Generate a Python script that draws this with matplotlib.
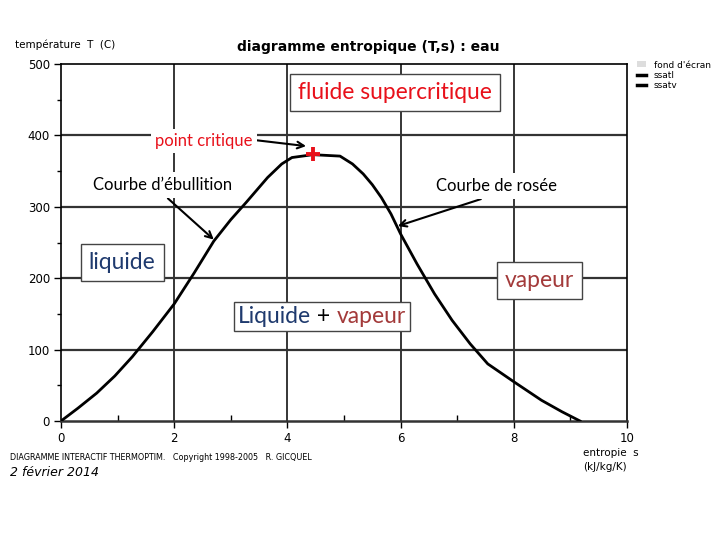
import matplotlib
matplotlib.use("Agg")
import matplotlib.pyplot as plt
from matplotlib.lines import Line2D
from matplotlib.patches import Patch
from matplotlib.offsetbox import TextArea, HPacker, AnnotationBbox

# saturation curve (entropy s in kJ/kg/K, temperature T in C)
s_liq = [0.0, 0.3, 0.63, 0.95, 1.26, 1.62, 2.0, 2.35, 2.7, 3.0, 3.27, 3.65, 3.9, 4.08, 4.45]
T_liq = [0, 18, 39, 63, 90, 125, 164, 207, 252, 282, 306, 341, 360, 369, 373]
s_vap = [4.45, 4.93, 5.15, 5.34, 5.5, 5.66, 5.83, 6.0, 6.29, 6.6, 6.91, 7.23, 7.54,
         8.0, 8.49, 8.85, 9.17]
T_vap = [373, 371, 360, 346, 331, 313, 290, 262, 220, 178, 141, 108, 80,
         55, 29, 13, 0]
crit_s, crit_T = 4.45, 374

x_ticks = [0, 2, 4, 6, 8, 10]
y_ticks = [0, 100, 200, 300, 400, 500]

blue = "#1f3a6e"
dred = "#a33a3a"
red = "#e8101a"
ann_font = ["Lato", "DejaVu Sans"]

fig = plt.figure(figsize=(7.2, 5.4), dpi=100)
ax = fig.add_axes([61 / 720, 1 - 421 / 540, 566 / 720, 357 / 540])
ax.set_xlim(0, 10)
ax.set_ylim(0, 500)
ax.set_xticks(x_ticks)
ax.set_yticks(y_ticks)
ax.set_xticks([1, 3, 5, 7, 9], minor=True)
ax.set_yticks([50, 150, 250, 350, 450], minor=True)
ax.tick_params(axis="both", which="major", direction="out", length=5, width=1,
               labelsize=8.5, colors="black", pad=3)
ax.tick_params(axis="x", which="minor", direction="in", length=4, width=1)
ax.tick_params(axis="y", which="minor", direction="out", length=3, width=1)
for sp in ax.spines.values():
    sp.set_linewidth(1.2)
    sp.set_color("black")
ax.spines["bottom"].set_color("#333333")
ax.spines["bottom"].set_linewidth(1.8)

for x in x_ticks[1:-1]:
    ax.axvline(x, color="black", lw=1.1, zorder=1)
for y in y_ticks[1:-1]:
    ax.axhline(y, color="#333333", lw=1.6, zorder=1)

ax.plot(s_liq, T_liq, color="black", lw=2, zorder=3)
ax.plot(s_vap, T_vap, color="black", lw=2, zorder=3)
ax.plot([crit_s], [crit_T], marker="+", color=red, markersize=10,
        markeredgewidth=2.8, zorder=4)

# annotations
ax.annotate("point critique", xy=(4.33, 385), xytext=(2.53, 392),
            ha="center", va="center", fontsize=12, color=red, family=ann_font,
            bbox=dict(boxstyle="square,pad=0.25", fc="white", ec="none"),
            arrowprops=dict(arrowstyle="->", color="black", lw=1.5,
                            shrinkA=0, shrinkB=0,
                            relpos=(1.04, 0.55)), zorder=5)
ax.annotate("Courbe d\u2019\u00e9bullition", xy=(2.70, 254), xytext=(1.79, 330),
            ha="center", va="center", fontsize=12, color="black", family=ann_font,
            bbox=dict(boxstyle="square,pad=0.3", fc="white", ec="none"),
            arrowprops=dict(arrowstyle="->", color="black", lw=1.5,
                            shrinkA=0, shrinkB=0, relpos=(0.5, 0.0)), zorder=5)
ax.annotate("Courbe de ros\u00e9e", xy=(5.95, 273), xytext=(7.69, 329),
            ha="center", va="center", fontsize=12, color="black", family=ann_font,
            bbox=dict(boxstyle="square,pad=0.3", fc="white", ec="none"),
            arrowprops=dict(arrowstyle="->", color="black", lw=1.5,
                            shrinkA=0, shrinkB=0, relpos=(0.5, 0.0)), zorder=5)

box = dict(boxstyle="square,pad=0.35", fc="white", ec="#444444", lw=1)
ax.text(5.90, 460, "fluide supercritique", ha="center", va="center",
        fontsize=16.4, color=red, family=ann_font, bbox=box, zorder=5)
ax.text(1.08, 222, "liquide", ha="center", va="center",
        fontsize=16.5, color=blue, family=ann_font, bbox=box, zorder=5)
ax.text(8.46, 196.5, "vapeur", ha="center", va="center",
        fontsize=16.5, color=dred, family=ann_font, bbox=box, zorder=5)

parts = [("Liquide", blue), (" + ", "black"), ("vapeur", dred)]
areas = [TextArea(t, textprops=dict(color=c, fontsize=16.5, family=ann_font))
         for t, c in parts]
packer = HPacker(children=areas, align="baseline", pad=0, sep=0)
ab = AnnotationBbox(packer, (4.61, 146), xycoords="data", frameon=True,
                    box_alignment=(0.5, 0.5), pad=0.35,
                    bboxprops=dict(boxstyle="square", fc="white", ec="#444444", lw=1),
                    zorder=5)
ax.add_artist(ab)

# legend
handles = [Patch(facecolor="#dddddd", edgecolor="none"),
           Line2D([], [], color="black", lw=2.5),
           Line2D([], [], color="black", lw=2.5)]
fig.legend(handles, ["fond d'\u00e9cran", "ssatl", "ssatv"],
           loc="upper left", bbox_to_anchor=(632 / 720, 1 - 56 / 540),
           frameon=False, fontsize=6.5, handlelength=1.0, handleheight=0.6,
           handletextpad=0.9, labelspacing=0.15, borderpad=0)

# texts
fig.text(237 / 720, 1 - 47 / 540, "diagramme entropique (T,s) : eau",
         fontsize=10, fontweight="bold", va="center", ha="left")
fig.text(15 / 720, 1 - 45 / 540, "temp\u00e9rature  T  (C)", fontsize=7.5,
         va="center", ha="left")
fig.text(583 / 720, 1 - 460 / 540, "entropie  s\n(kJ/kg/K)", fontsize=7.5,
         va="center", ha="left", linespacing=1.5)
fig.text(10 / 720, 1 - 457 / 540,
         "DIAGRAMME INTERACTIF THERMOPTIM.   Copyright 1998-2005   R. GICQUEL",
         fontsize=5.8, va="center", ha="left")
fig.text(10 / 720, 1 - 473 / 540, "2 f\u00e9vrier 2014", fontsize=9,
         style="italic", va="center", ha="left")

fig.savefig("out.png", dpi=100)
